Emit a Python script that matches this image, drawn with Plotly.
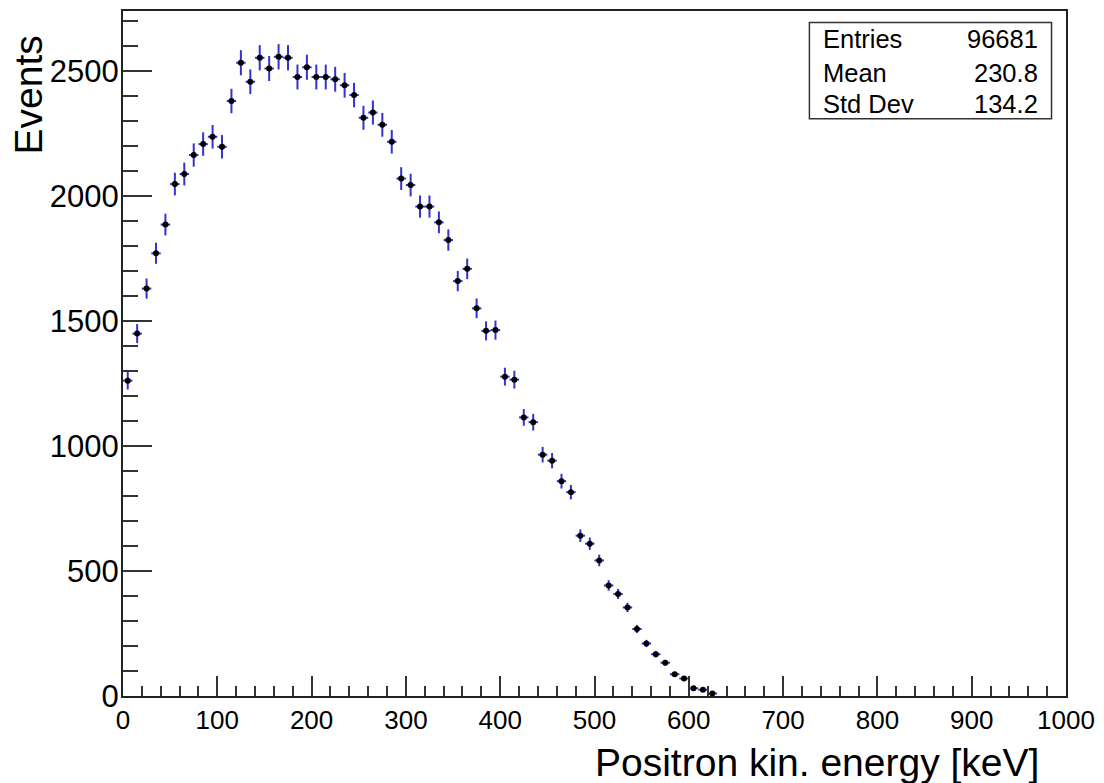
import plotly.graph_objects as go

# Bin centres [keV] and counts per 10 keV bin
energy_kev = [5, 15, 25, 35, 45, 55, 65, 75, 85, 95,
              105, 115, 125, 135, 145, 155, 165, 175, 185, 195,
              205, 215, 225, 235, 245, 255, 265, 275, 285, 295,
              305, 315, 325, 335, 345, 355, 365, 375, 385, 395,
              405, 415, 425, 435, 445, 455, 465, 475, 485, 495,
              505, 515, 525, 535, 545, 555, 565, 575, 585, 595,
              605, 615, 625]
events = [1261, 1449, 1629, 1770, 1885, 2047, 2087, 2163, 2207, 2236,
          2196, 2379, 2532, 2456, 2552, 2509, 2556, 2552, 2475, 2514,
          2475, 2475, 2466, 2442, 2403, 2312, 2333, 2284, 2216, 2069,
          2043, 1957, 1957, 1894, 1823, 1659, 1708, 1550, 1460, 1463,
          1277, 1265, 1114, 1095, 965, 941, 859, 815, 641, 609,
          542, 442, 408, 354, 268, 210, 167, 133, 87, 70,
          31, 25, 10]
bin_half_width = 5

stats_labels = ["Entries", "Mean", "Std Dev"]
stats_values = ["96681", "230.8", "134.2"]

FONT = "Liberation Sans, Arial, Helvetica, sans-serif"
ERRC = "rgb(50,50,210)"

fig = go.Figure()
fig.add_trace(go.Scatter(
    x=energy_kev, y=events, mode="markers",
    marker=dict(color="black", size=6),
    error_y=dict(type="sqrt", color=ERRC, thickness=2, width=0),
    error_x=dict(type="constant", value=bin_half_width, color=ERRC, thickness=2, width=0),
    showlegend=False, hoverinfo="x+y",
))

# plot area in pixels: x 122.5..1067, y 9..696
L, R, T, B = 122.5, 1067.0, 9.0, 696.0
W, H = 1104, 783
def px(xp):
    return (xp - L) / (R - L)
def py(yp):
    return (B - yp) / (B - T)

fig.update_layout(
    width=W, height=H,
    margin=dict(l=L, r=W - R, t=T, b=H - B),
    paper_bgcolor="white", plot_bgcolor="white",
    font=dict(family=FONT, color="black"),
    xaxis=dict(range=[0, 1000], dtick=100, tick0=0,
               ticks="inside", ticklen=20, tickwidth=1.5, tickcolor="#333",
               minor=dict(ticks="inside", ticklen=10, dtick=20, tick0=0, tickwidth=1.5, tickcolor="#333"),
               showline=True, linewidth=2, linecolor="#222", mirror=True,
               showgrid=False, zeroline=False,
               tickfont=dict(size=26, family=FONT, color="black")),
    yaxis=dict(range=[0, 2739], dtick=500, tick0=0,
               ticks="inside", ticklen=29, tickwidth=1.5, tickcolor="#333",
               minor=dict(ticks="inside", ticklen=15, dtick=100, tick0=0, tickwidth=1.5, tickcolor="#333"),
               showline=True, linewidth=2, linecolor="#222", mirror=True,
               showgrid=False, zeroline=False, ticklabelstandoff=-4,
               tickfont=dict(size=31, family=FONT, color="black")),
)

annotations = [
    dict(text="Events", xref="paper", yref="paper", x=px(28), y=py(93),
         xanchor="center", yanchor="middle", textangle=-90, showarrow=False,
         font=dict(size=39, family=FONT, color="black")),
    dict(text="Positron kin. energy [keV]", xref="paper", yref="paper", x=px(1042), y=py(763),
         xanchor="right", yanchor="middle", showarrow=False,
         font=dict(size=39, family=FONT, color="black")),
]
row_y = [37.5, 71, 102.5]
for lab, val, ry in zip(stats_labels, stats_values, row_y):
    annotations.append(dict(text=lab, xref="paper", yref="paper", x=px(822), y=py(ry),
                            xanchor="left", yanchor="middle", showarrow=False,
                            font=dict(size=25.5, family=FONT, color="black")))
    annotations.append(dict(text=val, xref="paper", yref="paper", x=px(1041), y=py(ry),
                            xanchor="right", yanchor="middle", showarrow=False,
                            font=dict(size=25.5, family=FONT, color="black")))
fig.update_layout(annotations=annotations)

fig.add_shape(type="rect", xref="paper", yref="paper",
              x0=px(810), x1=px(1052.5), y0=py(117), y1=py(20.5),
              line=dict(color="#333", width=1.5), fillcolor="white", layer="below")

fig.write_html("out.html", config={"displayModeBar": False},
               post_script="document.body.style.margin='0';document.body.style.overflow='hidden';")
